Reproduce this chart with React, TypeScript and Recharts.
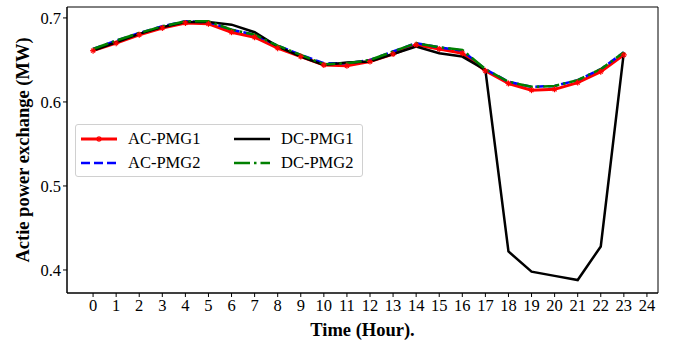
import { LineChart, Line, XAxis, YAxis, Legend, Label, ReferenceArea } from 'recharts';

const hours = [0, 1, 2, 3, 4, 5, 6, 7, 8, 9, 10, 11, 12, 13, 14, 15, 16, 17, 18, 19, 20, 21, 22, 23];
const acPmg1 = [0.661, 0.670, 0.680, 0.688, 0.694, 0.693, 0.683, 0.677, 0.664, 0.654, 0.644, 0.643, 0.648, 0.657, 0.668, 0.663, 0.658, 0.637, 0.622, 0.614, 0.615, 0.623, 0.636, 0.656];
const acPmg2 = [0.663, 0.673, 0.682, 0.690, 0.696, 0.695, 0.686, 0.680, 0.667, 0.656, 0.646, 0.646, 0.650, 0.660, 0.670, 0.665, 0.661, 0.639, 0.624, 0.618, 0.619, 0.626, 0.639, 0.659];
const dcPmg1 = [0.661, 0.671, 0.681, 0.689, 0.695, 0.695, 0.692, 0.683, 0.666, 0.654, 0.644, 0.647, 0.648, 0.657, 0.666, 0.658, 0.654, 0.638, 0.422, 0.398, 0.393, 0.388, 0.428, 0.659];
const dcPmg2 = [0.663, 0.673, 0.682, 0.690, 0.696, 0.696, 0.686, 0.680, 0.667, 0.656, 0.645, 0.646, 0.650, 0.660, 0.670, 0.665, 0.662, 0.639, 0.624, 0.618, 0.619, 0.626, 0.639, 0.659];
const xTicks = [0, 1, 2, 3, 4, 5, 6, 7, 8, 9, 10, 11, 12, 13, 14, 15, 16, 17, 18, 19, 20, 21, 22, 23, 24];
const yTicks = [0.4, 0.5, 0.6, 0.7];
const xDomain = [-1.13, 24.48];
const yDomain = [0.3726, 0.713];

const data = hours.map((h, i) => ({ h, ac1: acPmg1[i], ac2: acPmg2[i], dc1: dcPmg1[i], dc2: dcPmg2[i] }));

const FONT = '"Liberation Serif", "Times New Roman", serif';

const Star = (props: any) => {
  const { cx, cy } = props;
  if (cx == null || cy == null) return null;
  const r = 3;
  return (
    <g stroke="#ff0000" strokeWidth={1.2}>
      <line x1={cx - r} y1={cy} x2={cx + r} y2={cy} />
      <line x1={cx} y1={cy - r} x2={cx} y2={cy + r} />
      <line x1={cx - 2} y1={cy - 2} x2={cx + 2} y2={cy + 2} />
      <line x1={cx - 2} y1={cy + 2} x2={cx + 2} y2={cy - 2} />
    </g>
  );
};

const legendItems = [
  { name: 'AC-PMG1', color: '#ff0000', dash: undefined, w: 3, star: true },
  { name: 'DC-PMG1', color: '#000000', dash: undefined, w: 2.5, star: false },
  { name: 'AC-PMG2', color: '#0000ff', dash: '9 4', w: 2.5, star: false },
  { name: 'DC-PMG2', color: '#008000', dash: '16 4 2.5 4', w: 2.5, star: false },
];

const LegendBox = () => (
  <div style={{ width: 288, height: 53, border: '1px solid #d0d0d0', borderRadius: 3, background: 'rgba(255,255,255,0.8)', boxSizing: 'border-box', fontFamily: FONT, fontSize: 16.5, color: '#000' }}>
    {[0, 1].map((row) => (
      <div key={row} style={{ display: 'flex', height: 24, marginTop: row === 0 ? 2 : 0 }}>
        {[0, 1].map((col) => {
          const it = legendItems[row * 2 + col];
          return (
            <div key={col} style={{ display: 'flex', alignItems: 'center', width: col === 0 ? 153 : 130 }}>
              <svg width={36} height={12} style={{ marginLeft: 5, marginRight: 11 }}>
                <line x1={0} y1={6} x2={36} y2={6} stroke={it.color} strokeWidth={it.w} strokeDasharray={it.dash} />
                {it.star && <Star cx={18} cy={6} />}
              </svg>
              <span>{it.name}</span>
            </div>
          );
        })}
      </div>
    ))}
  </div>
);

export default function App() {
  return (
    <div style={{ position: 'absolute', left: 0, top: 0, background: '#fff' }}>
      <LineChart width={674} height={342} data={data} margin={{ top: 7, right: 16, left: 0, bottom: 0 }}>
        <XAxis
          dataKey="h"
          type="number"
          domain={xDomain}
          ticks={xTicks}
          interval={0}
          height={49}
          stroke="#000"
          tickLine={{ stroke: '#000' }}
          tickSize={4}
          tick={{ fill: '#000', fontFamily: FONT, fontSize: 16.5 }}
        >
          <Label value="Time (Hour)." position="insideBottom" offset={6} style={{ fontFamily: FONT, fontSize: 18.5, fontWeight: 'bold', fill: '#000' }} />
        </XAxis>
        <YAxis
          type="number"
          domain={yDomain}
          ticks={yTicks}
          width={67}
          stroke="#000"
          tickLine={{ stroke: '#000' }}
          tickSize={4}
          tickFormatter={(v: number) => v.toFixed(1)}
          tick={{ fill: '#000', fontFamily: FONT, fontSize: 16.5 }}
        >
          <Label value="Actie power exchange (MW)" angle={-90} position="center" dx={-11} style={{ fontFamily: FONT, fontSize: 18.5, fontWeight: 'bold', fill: '#000', textAnchor: 'middle' }} />
        </YAxis>
        <ReferenceArea x1={xDomain[0]} x2={xDomain[1]} y1={yDomain[0]} y2={yDomain[1]} fill="none" stroke="#000" strokeWidth={1} ifOverflow="visible" />
        <Legend layout="vertical" align="center" verticalAlign="middle" content={() => <LegendBox />} wrapperStyle={{ position: 'absolute', left: 75, top: 124, width: 288, height: 53 }} />
        <Line dataKey="ac1" stroke="#ff0000" strokeWidth={3} dot={<Star />} isAnimationActive={false} />
        <Line dataKey="ac2" stroke="#0000ff" strokeWidth={2.5} strokeDasharray="9 4" dot={false} isAnimationActive={false} />
        <Line dataKey="dc1" stroke="#000000" strokeWidth={2.5} dot={false} isAnimationActive={false} />
        <Line dataKey="dc2" stroke="#008000" strokeWidth={2.5} strokeDasharray="16 4 2.5 4" dot={false} isAnimationActive={false} />
      </LineChart>
    </div>
  );
}
